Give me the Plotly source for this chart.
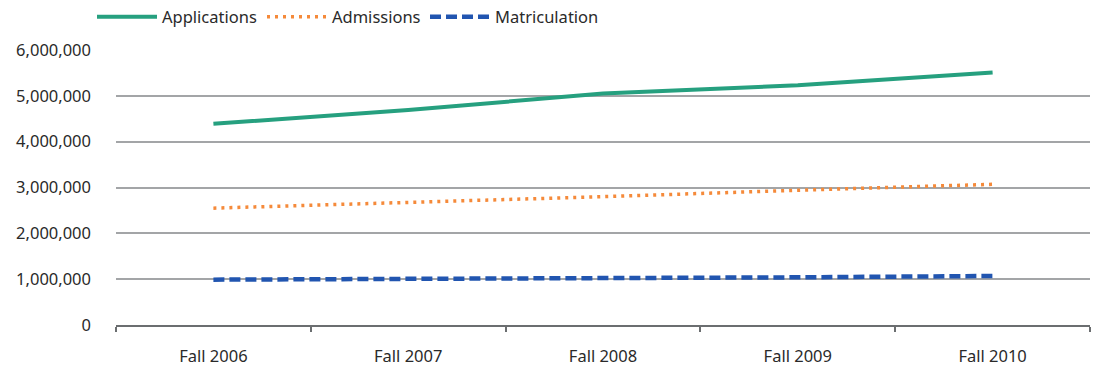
import plotly.graph_objects as go

# Academic years on the category axis
years = ["Fall 2006", "Fall 2007", "Fall 2008", "Fall 2009", "Fall 2010"]

# Series values
applications = [4390000, 4690000, 5050000, 5230000, 5510000]
admissions = [2550000, 2670000, 2800000, 2940000, 3070000]
matriculation = [990000, 1000000, 1030000, 1040000, 1070000]

# Y-axis ticks
y_ticks = [0, 1000000, 2000000, 3000000, 4000000, 5000000, 6000000]
y_tick_labels = ["0", "1,000,000", "2,000,000", "3,000,000", "4,000,000", "5,000,000", "6,000,000"]

fig = go.Figure()
fig.add_trace(go.Scatter(x=years, y=applications, name="Applications", mode="lines",
                         line=dict(color="#26a07f", width=4), legend="legend"))
fig.add_trace(go.Scatter(x=years, y=admissions, name="Admissions", mode="lines",
                         line=dict(color="#f58a3a", width=3.5, dash="3px,5px"), legend="legend2"))
fig.add_trace(go.Scatter(x=years, y=matriculation, name="Matriculation", mode="lines",
                         line=dict(color="#2155b0", width=4.5, dash="11px,5px"), legend="legend3"))

# One legend box per series, laid out in a row across the top
legend_style = dict(orientation="h", xref="container", xanchor="left",
                    yref="container", y=0.954, yanchor="middle",
                    itemwidth=60, font=dict(size=16.5), bgcolor="rgba(0,0,0,0)")

fig.update_layout(
    width=1094, height=370,
    margin=dict(l=116, r=4, t=50, b=45, autoexpand=False),
    paper_bgcolor="white", plot_bgcolor="white",
    font=dict(family="Noto Sans, Open Sans, sans-serif", size=16.5, color="#2a2a2a"),
    showlegend=True,
    legend=dict(x=92 / 1094, **legend_style),
    legend2=dict(x=262 / 1094, **legend_style),
    legend3=dict(x=425 / 1094, **legend_style),
    xaxis=dict(type="category", range=[-0.5, 4.5], showgrid=False,
               showline=True, linecolor="#6b6e70", linewidth=2,
               ticks="outside", tickson="boundaries", ticklen=5, tickwidth=2,
               tickcolor="#6b6e70", ticklabelstandoff=15, zeroline=False),
    yaxis=dict(range=[0, 6000000], tickvals=y_ticks, ticktext=y_tick_labels,
               showgrid=True, gridcolor="#a3a5a7", gridwidth=2,
               zeroline=False, showline=False, ticks="", ticklabelstandoff=24),
)

fig.write_html("out.html")
